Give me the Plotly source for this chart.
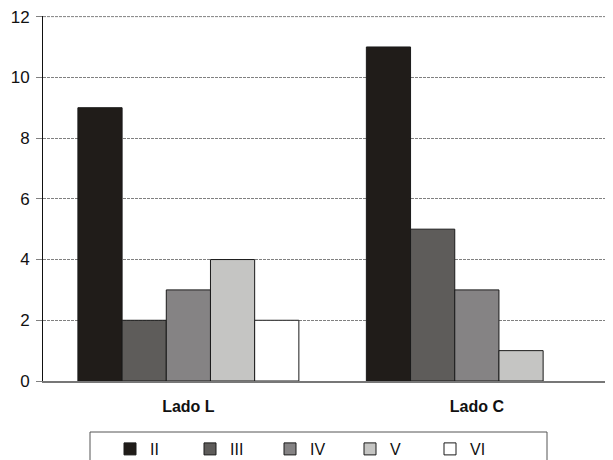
import plotly.graph_objects as go

categories = ["Lado L", "Lado C"]
series_names = ["II", "III", "IV", "V", "VI"]
values_II = [9, 11]
values_III = [2, 5]
values_IV = [3, 3]
values_V = [4, 1]
values_VI = [2, 0]
series_values = [values_II, values_III, values_IV, values_V, values_VI]
colors = ["#201c19", "#5e5c5a", "#858384", "#c5c5c3", "#ffffff"]
y_ticks = [0, 2, 4, 6, 8, 10, 12]

fig = go.Figure()
for name, vals, col in zip(series_names, series_values, colors):
    fig.add_trace(go.Bar(
        x=categories, y=vals, name=name,
        marker=dict(color=col,
                    line=dict(color="#1a1a1a", width=[1 if v > 0 else 0 for v in vals])),
    ))

# top gridline (plotly hides the one at the very edge)
fig.add_shape(type="line", xref="paper", yref="y", x0=0, x1=1,
              y0=y_ticks[-1], y1=y_ticks[-1],
              line=dict(color="#808080", width=1, dash="3px,1px"), layer="below")

fig.add_shape(type="rect", xref="paper", yref="paper",
              x0=(90 - 43) / 570, x1=(547 - 43) / 570,
              y0=-0.35, y1=-(432 - 381) / 365,
              line=dict(color="#555", width=1), fillcolor="rgba(0,0,0,0)")

fig.update_layout(
    width=613, height=460,
    margin=dict(l=35, r=8, t=8, b=87, autoexpand=False),
    paper_bgcolor="white", plot_bgcolor="white",
    barmode="group", bargap=0.234, bargroupgap=0,
    font=dict(family="Liberation Sans, Arial, sans-serif", size=16, color="#111"),
    showlegend=True,
    legend=dict(
        orientation="h", x=67 / 570, xanchor="left",
        yref="container", y=(460 - 424) / 460, yanchor="top",
        borderwidth=0, entrywidth=35, entrywidthmode="pixels",
        font=dict(size=16), bgcolor="rgba(0,0,0,0)",
    ),
    xaxis=dict(
        showline=True, linecolor="#777", linewidth=2,
        tickfont=dict(size=16, color="#111", weight="bold"),
        ticks="", showgrid=False, range=[-0.504, 1.472], ticklabelstandoff=10,
    ),
    yaxis=dict(
        range=[0, 12.02], tickvals=y_ticks, showline=True, linecolor="#111", linewidth=1,
        showgrid=True, gridcolor="#808080", griddash="3px,1px", gridwidth=1,
        ticks="outside", ticklen=6, tickcolor="#808080", ticklabelstandoff=3,
        ticklabeloverflow="allow",
        tickfont=dict(size=17, color="#111"), zeroline=False,
    ),
)
fig.write_html("out.html")
